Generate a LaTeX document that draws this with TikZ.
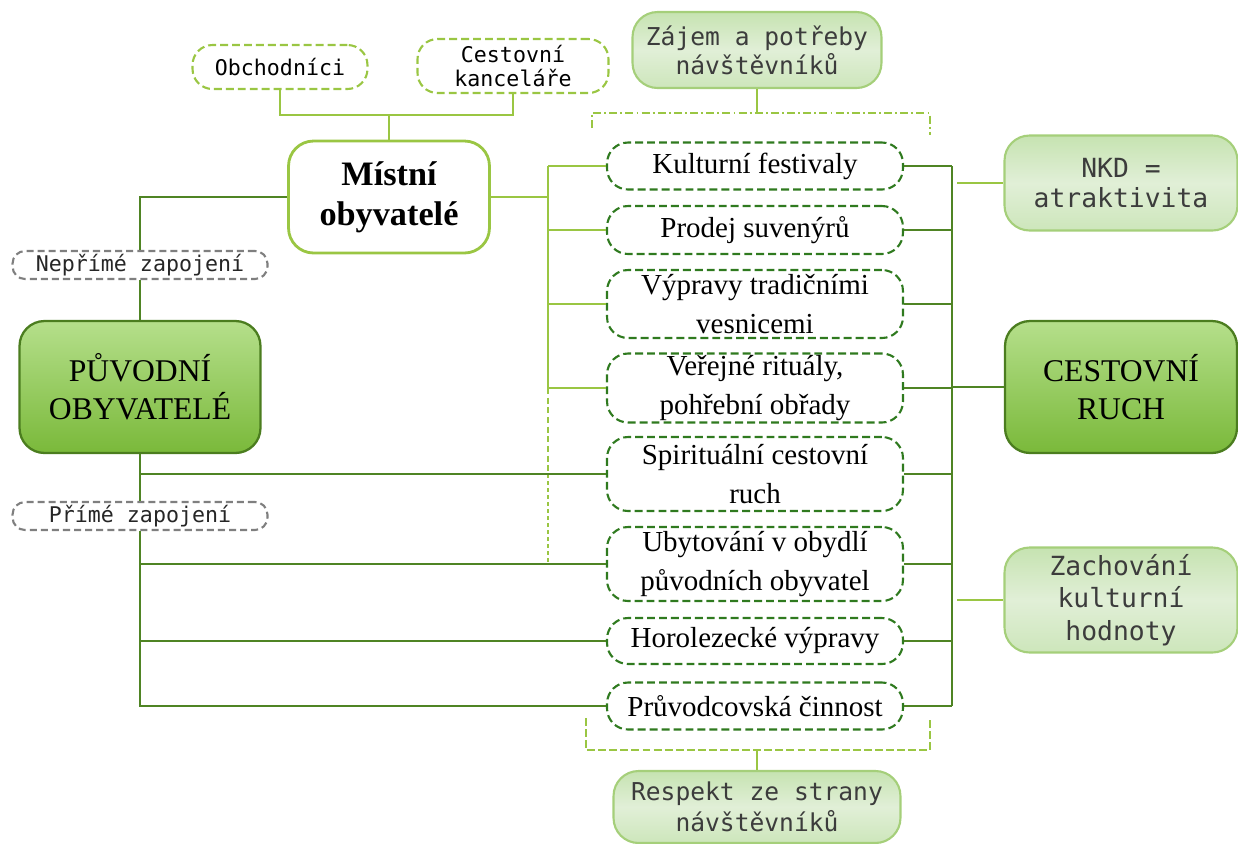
\documentclass[tikz,border=0pt]{standalone}
\usepackage{fontspec}
\setmainfont{Liberation Serif}
\setmonofont{DejaVu Sans Mono}
\definecolor{deepgreen}{HTML}{2F7A1F}
\definecolor{trunkgreen}{HTML}{4F8424}
\definecolor{litegreen}{HTML}{9AC643}
\definecolor{softedge}{HTML}{A5CF7A}
\definecolor{softtop}{HTML}{C6E3B1}
\definecolor{softmid}{HTML}{E1EFD7}
\definecolor{softbot}{HTML}{CDE6BB}
\definecolor{bigedge}{HTML}{4B7D1F}
\definecolor{bigtop}{HTML}{B5DF8B}
\definecolor{bigbot}{HTML}{7AB93A}
\definecolor{tagrey}{HTML}{7F7F7F}
\definecolor{softtext}{HTML}{3C3C3C}

\begin{document}
\begin{tikzpicture}[
  x=0.02cm, y=-0.02cm,
  activity/.style={rectangle, draw=deepgreen, line width=1.2pt, dash pattern=on 4.5pt off 2.3pt,
    rounded corners=0.42cm, minimum width=5.92cm, inner sep=0pt, align=center,
    font=\fontsize{16.5}{22.5}\selectfont},
  palebox/.style={rectangle, draw=litegreen, line width=1.2pt, dash pattern=on 4.5pt off 2.3pt,
    rounded corners=0.4cm, inner sep=0pt, align=center, font=\ttfamily\fontsize{12.3}{14}\selectfont},
  tagbox/.style={rectangle, draw=tagrey, fill=white, line width=1.2pt, dash pattern=on 4pt off 2.3pt,
    rounded corners=0.25cm, minimum width=5.1cm, minimum height=0.56cm, inner sep=0pt,
    font=\ttfamily\fontsize{12.3}{14}\selectfont, text=black!85},
  softbox/.style={rectangle, draw=softedge, line width=1.2pt, rounded corners=0.5cm,
    top color=softtop, bottom color=softbot, middle color=softmid,
    inner sep=0pt, align=center, text=softtext},
  bigbox/.style={rectangle, draw=bigedge, line width=1.3pt, rounded corners=0.5cm,
    top color=bigtop, bottom color=bigbot,
    inner sep=0pt, align=center, font=\fontsize{18}{21.6}\selectfont},
  trunk/.style={draw=trunkgreen, line width=1.4pt},
  lite/.style={draw=litegreen, line width=1.4pt},
  brack/.style={draw=litegreen, line width=1.3pt, dash pattern=on 4.5pt off 1.8pt on 1.1pt off 1.8pt}
]
\useasboundingbox (0,0) rectangle (1238,843);

% top part
\node[palebox, minimum width=3.5cm, minimum height=0.88cm] (obch) at (280,67) {Obchodníci};
\node[palebox, minimum width=3.82cm, minimum height=1.08cm] (kanc) at (513,66) {Cestovní\\kanceláře};
\node[softbox, minimum width=4.98cm, minimum height=1.52cm, font=\ttfamily\fontsize{14}{16.5}\selectfont] (zajem) at (757,50) {Zájem a potřeby\\návštěvníků};
\node[rectangle, draw=litegreen, fill=white, line width=1.6pt, rounded corners=0.5cm,
  minimum width=4.02cm, minimum height=2.24cm, inner sep=0pt, align=center,
  font=\bfseries\fontsize{19.5}{23}\selectfont] (mistni) at (389,197) {Místní\\obyvatelé};

% left part
\node[tagbox] (neprime) at (140,265) {Nepřímé zapojení};
\node[bigbox, minimum width=4.82cm, minimum height=2.64cm] (puvodni) at (140,387) {PŮVODNÍ\\OBYVATELÉ};
\node[tagbox] (prime) at (140,516) {Přímé zapojení};

% activities
\node[activity, minimum height=0.94cm] (kult) at (755,166) {Kulturní festivaly};
\node[activity, minimum height=0.96cm] (prod) at (755,230) {Prodej suvenýrů};
\node[activity, minimum height=1.36cm] (vypr) at (755,304) {Výpravy tradičními\\vesnicemi};
\node[activity, minimum height=1.38cm] (verej) at (755,388) {Veřejné rituály,\\pohřební obřady};
\node[activity, minimum height=1.48cm] (spir) at (755,474) {Spirituální cestovní\\ruch};
\node[activity, minimum height=1.48cm] (ubyt) at (755,564) {Ubytování v obydlí\\původních obyvatel};
\node[activity, minimum height=0.92cm] (horo) at (755,641) {Horolezecké výpravy};
\node[activity, minimum height=0.94cm] (pruv) at (755,706) {Průvodcovská činnost};

% right part
\node[softbox, minimum width=4.66cm, minimum height=1.9cm, font=\ttfamily\fontsize{15}{17.5}\selectfont] (nkd) at (1121,183) {NKD =\\atraktivita};
\node[bigbox, minimum width=4.64cm, minimum height=2.64cm] (cr) at (1121,387) {CESTOVNÍ\\RUCH};
\node[softbox, minimum width=4.66cm, minimum height=2.1cm, font=\ttfamily\fontsize{15}{18.4}\selectfont] (zach) at (1121,600) {Zachování\\kulturní\\hodnoty};
\node[softbox, minimum width=5.74cm, minimum height=1.44cm, font=\ttfamily\fontsize{14}{18}\selectfont] (respekt) at (757,807) {Respekt ze strany\\návštěvníků};

\coordinate (top) at (389,115);
\coordinate (lt) at (140,0);
\coordinate (mt) at (548,0);
\coordinate (rt) at (952,0);
\coordinate (tbl) at (592,128);
\coordinate (tbr) at (930,135);
\coordinate (tby) at (0,113);
\coordinate (bbl) at (586,718);
\coordinate (bbr) at (930,718);
\coordinate (bby) at (0,750);

% Mistni obyvatele
\draw[lite] (obch.south) |- (top) -| (kanc.south);
\draw[lite] (top) -- (mistni.north);
\draw[trunk] (mistni.west) -| (neprime.north);
\draw[trunk] (neprime.south) -- (puvodni.north);
\draw[lite] (mistni.east) -- (mistni.east -| mt);
\draw[lite] (kult.west -| mt) -- (verej.west -| mt);
\draw[lite, dash pattern=on 3.5pt off 2pt] (verej.west -| mt) -- (spir.west -| mt);
\draw[lite, dash pattern=on 2pt off 2pt] (spir.west -| mt) -- (ubyt.west -| mt);
\draw[lite] (kult.west -| mt) -- (kult.west);
\draw[lite] (prod.west -| mt) -- (prod.west);
\draw[lite] (vypr.west -| mt) -- (vypr.west);
\draw[lite] (verej.west -| mt) -- (verej.west);

% Puvodni obyvatele
\draw[trunk] (puvodni.south) -- (prime.north);
\draw[trunk] (prime.south) |- (pruv.west);
\draw[trunk] (spir.west -| lt) -- (spir.west);
\draw[trunk] (ubyt.west -| lt) -- (ubyt.west);
\draw[trunk] (horo.west -| lt) -- (horo.west);

% cestovni ruch
\draw[trunk] (kult.east -| rt) -- (pruv.east -| rt);
\draw[trunk] (kult.east) -- (kult.east -| rt);
\draw[trunk] (prod.east) -- (prod.east -| rt);
\draw[trunk] (vypr.east) -- (vypr.east -| rt);
\draw[trunk] (verej.east) -- (verej.east -| rt);
\draw[trunk] (spir.east) -- (spir.east -| rt);
\draw[trunk] (ubyt.east) -- (ubyt.east -| rt);
\draw[trunk] (horo.east) -- (horo.east -| rt);
\draw[trunk] (pruv.east) -- (pruv.east -| rt);
\draw[trunk] (cr.west -| rt) -- (cr.west);
\draw[lite, shorten <=3pt] (nkd.west -| rt) -- (nkd.west);
\draw[lite, shorten <=3pt] (zach.west -| rt) -- (zach.west);

% brackets
\draw[brack] (tbl) -- (tbl |- tby) -- (tbr |- tby) -- (tbr);
\draw[lite] (zajem.south) -- (zajem.south |- tby);
\draw[lite, line width=1.3pt, dash pattern=on 4.5pt off 1.8pt] (bbl) -- (bbl |- bby) -- (bbr |- bby) -- (bbr);
\draw[lite] (respekt.north) -- (respekt.north |- bby);
\end{tikzpicture}
\end{document}
